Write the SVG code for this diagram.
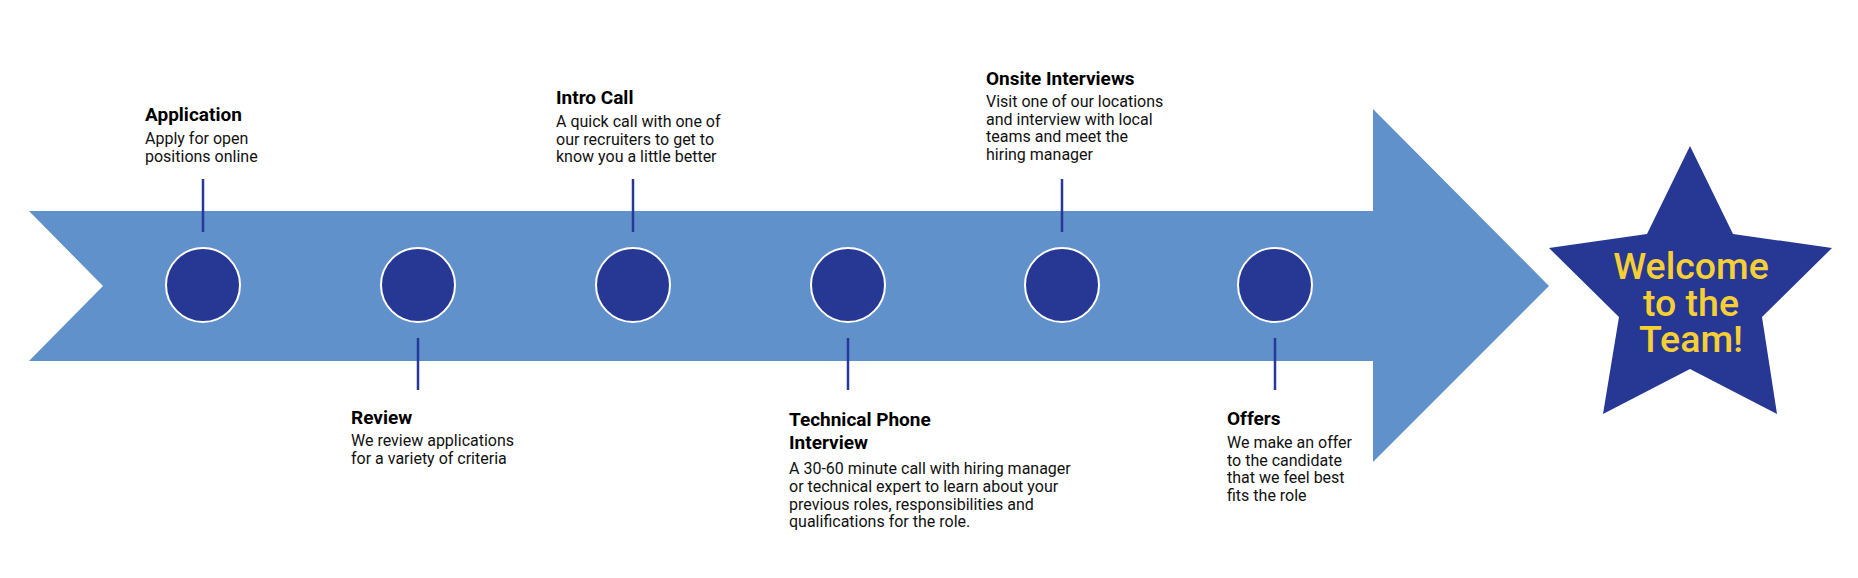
<svg xmlns="http://www.w3.org/2000/svg" width="1858" height="578" viewBox="0 0 1858 578">
<style>
.t{font-family:Roboto,"Liberation Sans",sans-serif;font-weight:700;font-size:19px;fill:#000}
.b{font-family:Roboto,"Liberation Sans",sans-serif;font-weight:400;font-size:16px;fill:#111}
.dot{fill:#273794;stroke:#fff;stroke-width:2}
.ln{stroke:#27379A;stroke-width:2.5}
.w{font-family:Roboto,"Liberation Sans",sans-serif;font-weight:500;font-size:37.5px;fill:#F5CF33;text-anchor:middle}
</style>
<rect width="1858" height="578" fill="#fff"/>
<g id="arrow">
<polygon points="29,211 1373,211 1373,109 1549,286 1373,462 1373,361 29,361 103,286" fill="#6091CB"/>
</g>
<g id="connectors">
<line class="ln" x1="203" y1="179" x2="203" y2="232"/>
<line class="ln" x1="418" y1="338" x2="418" y2="390"/>
<line class="ln" x1="633" y1="179" x2="633" y2="232"/>
<line class="ln" x1="848" y1="338" x2="848" y2="390"/>
<line class="ln" x1="1062" y1="179" x2="1062" y2="232"/>
<line class="ln" x1="1275" y1="338" x2="1275" y2="390"/>
</g>
<g id="step-application">
<circle class="dot" cx="203" cy="285" r="37"/>
<text class="t" x="145" y="121">Application</text>
<text class="b" x="145" y="144.3">Apply for open</text>
<text class="b" x="145" y="162">positions online</text>
</g>
<g id="step-review">
<circle class="dot" cx="418" cy="285" r="37"/>
<text class="t" x="351" y="424">Review</text>
<text class="b" x="351" y="446">We review applications</text>
<text class="b" x="351" y="464">for a variety of criteria</text>
</g>
<g id="step-intro">
<circle class="dot" cx="633" cy="285" r="37"/>
<text class="t" x="556" y="104">Intro Call</text>
<text class="b" x="556" y="127">A quick call with one of</text>
<text class="b" x="556" y="144.6">our recruiters to get to</text>
<text class="b" x="556" y="162.2">know you a little better</text>
</g>
<g id="step-technical">
<circle class="dot" cx="848" cy="285" r="37"/>
<text class="t" x="789" y="426">Technical Phone</text>
<text class="t" x="789" y="448.5">Interview</text>
<text class="b" x="789" y="474">A 30-60 minute call with hiring manager</text>
<text class="b" x="789" y="491.8">or technical expert to learn about your</text>
<text class="b" x="789" y="509.6">previous roles, responsibilities and</text>
<text class="b" x="789" y="527.4">qualifications for the role.</text>
</g>
<g id="step-onsite">
<circle class="dot" cx="1062" cy="285" r="37"/>
<text class="t" x="986" y="85">Onsite Interviews</text>
<text class="b" x="986" y="107">Visit one of our locations</text>
<text class="b" x="986" y="124.6">and interview with local</text>
<text class="b" x="986" y="142.2">teams and meet the</text>
<text class="b" x="986" y="159.8">hiring manager</text>
</g>
<g id="step-offers">
<circle class="dot" cx="1275" cy="285" r="37"/>
<text class="t" x="1227" y="425">Offers</text>
<text class="b" x="1227" y="448">We make an offer</text>
<text class="b" x="1227" y="465.7">to the candidate</text>
<text class="b" x="1227" y="483.4">that we feel best</text>
<text class="b" x="1227" y="501.1">fits the role</text>
</g>
<g id="star">
<polygon points="1690,146 1733,234 1832,248 1762,317 1777,414 1690,369 1603,414 1619,317 1549,248 1647,234" fill="#273794"/>
<text class="w" x="1691" y="279">Welcome</text>
<text class="w" x="1691" y="315.5">to the</text>
<text class="w" x="1691" y="352">Team!</text>
</g>
</svg>
